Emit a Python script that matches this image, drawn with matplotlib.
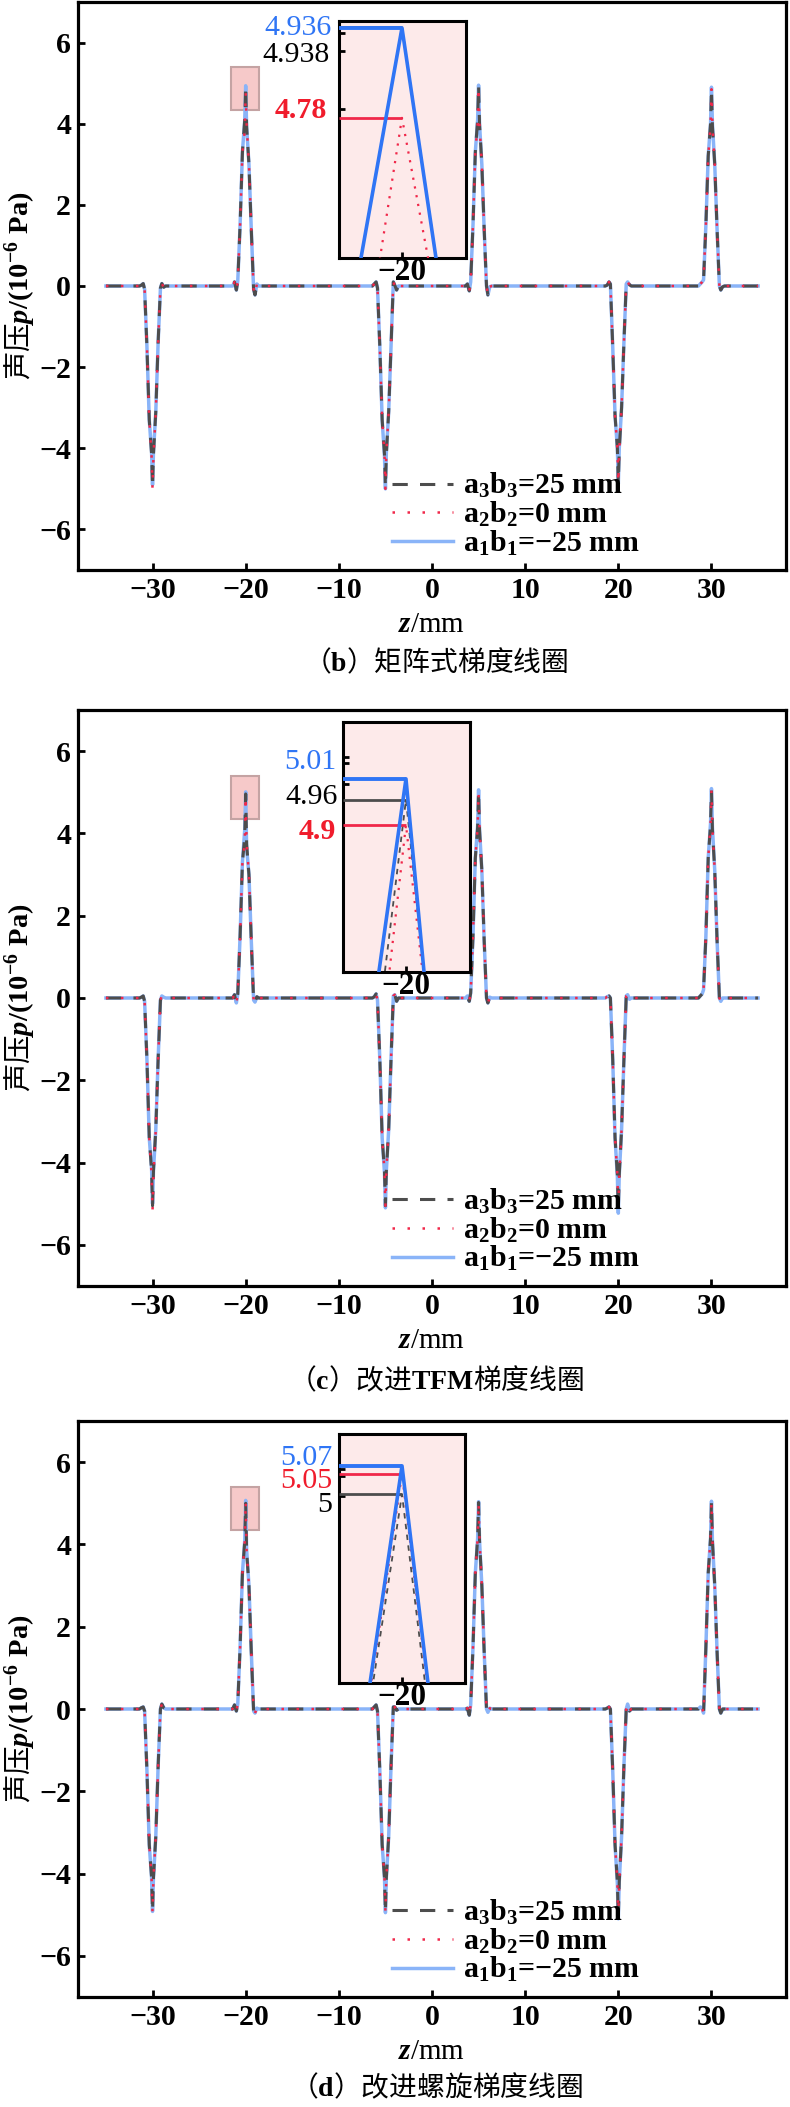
import matplotlib
matplotlib.use("Agg")
import matplotlib.pyplot as plt
from matplotlib.patches import Rectangle
from matplotlib.lines import Line2D

plt.rcParams['font.family'] = ['Liberation Serif', 'Noto Sans CJK SC', 'DejaVu Sans']
plt.rcParams['font.weight'] = 'bold'
plt.rcParams['mathtext.fontset'] = 'custom'
plt.rcParams['mathtext.rm'] = 'Liberation Serif:bold'
plt.rcParams['mathtext.it'] = 'Liberation Serif:italic:bold'
plt.rcParams['mathtext.bf'] = 'Liberation Serif:bold'
plt.rcParams['axes.unicode_minus'] = True

# ---------------- data ----------------
z = [-35.0,
     -31.4, -31.2, -31.0, -30.85, -30.6, -30.35, -30.1, -30.0, -29.9, -29.65, -29.4, -29.15, -29.0, -28.8, -28.6,
     -21.4, -21.2, -21.0, -20.85, -20.6, -20.35, -20.1, -20.0, -19.9, -19.65, -19.4, -19.15, -19.0, -18.8, -18.6,
     -6.4, -6.2, -6.0, -5.85, -5.6, -5.35, -5.1, -5.0, -4.9, -4.65, -4.4, -4.15, -4.0, -3.8, -3.6,
     3.6, 3.8, 4.0, 4.15, 4.4, 4.65, 4.9, 5.0, 5.1, 5.35, 5.6, 5.85, 6.0, 6.2, 6.4,
     18.6, 18.8, 19.0, 19.15, 19.4, 19.65, 19.9, 20.0, 20.1, 20.35, 20.6, 20.85, 21.0, 21.2, 21.4,
     28.6, 28.8, 29.0, 29.15, 29.4, 29.65, 29.9, 30.0, 30.1, 30.35, 30.6, 30.85, 31.0, 31.2, 31.4,
     35.0]
peak_z = [-30.0, -20.0, -5.0, 5.0, 20.0, 30.0]

# panel (b): a3b3 profile
b_a3b3 = [0.0,
          0.0, 0.02, 0.06, -0.08, -1.5, -3.3, -4.15, -4.95, -4.15, -3.1, -1.4, -0.05, 0.06, -0.03, 0.0,
          0.0, 0.1, -0.1, 0.12, 1.5, 3.3, 4.1, 4.938, 3.93, 3.0, 1.4, -0.08, -0.22, 0.05, 0.0,
          0.0, 0.05, 0.1, -0.05, -1.5, -3.3, -4.15, -4.95, -4.15, -3.1, -1.5, 0.1, 0.02, -0.1, 0.0,
          0.0, 0.05, -0.12, 0.1, 1.5, 3.3, 4.1, 4.95, 4.0, 3.0, 1.4, 0.0, -0.22, -0.02, 0.0,
          0.0, 0.02, 0.1, 0.05, -1.5, -3.2, -4.0, -4.85, -4.05, -3.0, -1.4, 0.05, 0.1, 0.03, 0.0,
          0.0, 0.05, 0.1, 0.15, 1.5, 3.2, 4.0, 4.85, 3.95, 3.0, 1.4, 0.0, -0.1, -0.02, 0.0,
          0.0]
b_a2b2_peaks = [(-4.2, -5.0, -4.2), (3.83, 4.78, 3.98), (-4.15, -5.0, -4.1),
                (4.0, 4.9, 3.95), (-4.0, -4.85, -4.05), (3.95, 4.85, 4.0)]
b_a1b1_peaks = [(-4.1, -4.9, -4.1), (4.1, 4.936, 3.928), (-4.2, -5.0, -4.1),
                (4.1, 4.95, 4.0), (-4.0, -4.88, -4.0), (4.0, 4.9, 4.0)]

# panel (c)
c_a3b3 = [0.0,
          0.0, 0.02, 0.05, -0.08, -1.5, -3.4, -4.2, -5.05, -4.2, -3.2, -1.5, -0.05, 0.05, 0.02, 0.0,
          0.0, 0.08, -0.12, 0.1, 1.5, 3.3, 3.92, 4.96, 3.74, 3.0, 1.4, -0.05, -0.1, 0.03, 0.0,
          0.0, 0.03, 0.1, -0.05, -1.5, -3.4, -4.2, -5.05, -4.2, -3.2, -1.5, 0.05, 0.08, -0.08, 0.0,
          0.0, 0.05, -0.08, 0.12, 1.5, 3.4, 4.15, 5.02, 4.1, 3.1, 1.4, 0.0, -0.12, 0.02, 0.0,
          0.0, 0.03, 0.05, 0.0, -1.5, -3.4, -4.3, -5.15, -4.3, -3.2, -1.5, 0.05, 0.08, -0.03, 0.0,
          0.0, 0.05, 0.1, 0.2, 1.5, 3.4, 4.2, 5.05, 4.1, 3.1, 1.4, 0.0, -0.08, 0.0, 0.0,
          0.0]
c_a2b2_peaks = [(-4.3, -5.18, -4.3), (3.77, 4.9, 3.77), (-4.2, -5.05, -4.2),
                (4.15, 5.0, 4.1), (-4.3, -5.2, -4.3), (4.2, 5.05, 4.1)]
c_a1b1_peaks = [(-4.15, -5.0, -4.2), (4.1, 5.01, 3.645), (-4.25, -5.1, -4.2),
                (4.2, 5.06, 4.1), (-4.35, -5.23, -4.3), (4.25, 5.09, 4.15)]

# panel (d)
d_a3b3 = [0.0,
          0.0, 0.03, 0.05, -0.05, -1.5, -3.3, -4.1, -4.92, -4.1, -3.1, -1.4, 0.0, 0.12, 0.03, 0.0,
          0.0, 0.1, -0.05, 0.12, 1.5, 3.3, 4.07, 5.0, 3.83, 3.0, 1.4, -0.05, -0.1, 0.02, 0.0,
          0.0, 0.05, 0.1, -0.05, -1.5, -3.3, -4.1, -4.94, -4.1, -3.1, -1.4, 0.05, 0.05, -0.03, 0.0,
          0.0, 0.02, -0.15, 0.1, 1.5, 3.3, 4.15, 5.02, 4.1, 3.0, 1.4, 0.0, -0.08, 0.02, 0.0,
          0.0, 0.02, 0.05, 0.0, -1.5, -3.3, -4.2, -5.08, -4.2, -3.1, -1.4, 0.0, 0.12, -0.05, 0.0,
          0.0, 0.05, 0.02, -0.1, 1.5, 3.3, 4.15, 5.03, 4.1, 3.0, 1.4, 0.0, -0.1, 0.0, 0.0,
          0.0]
d_a2b2_peaks = [(-4.1, -4.95, -4.1), (4.08, 5.05, 3.856), (-4.1, -4.94, -4.1),
                (4.15, 5.02, 4.1), (-4.2, -5.08, -4.2), (4.15, 5.03, 4.1)]
d_a1b1_peaks = [(-4.1, -4.92, -4.1), (4.1, 5.07, 3.876), (-4.1, -4.95, -4.1),
                (4.15, 5.04, 4.1), (-4.25, -5.1, -4.2), (4.15, 5.05, 4.1)]

labels = ['a$_3$b$_3$=25 mm', 'a$_2$b$_2$=0 mm', 'a$_1$b$_1$=\u221225 mm']
captions = ['（$\\mathbf{b}$）矩阵式梯度线圈',
            '（$\\mathbf{c}$）改进$\\mathbf{TFM}$梯度线圈',
            '（$\\mathbf{d}$）改进螺旋梯度线圈']
xticks = [-30, -20, -10, 0, 10, 20, 30]
yticks = [-6, -4, -2, 0, 2, 4, 6]


def with_peaks(base, peaks):
    vals = list(base)
    for c, trip in zip(peak_z, peaks):
        i = z.index(c)
        vals[i - 1:i + 2] = list(trip)
    return vals


panels = [
    dict(black=b_a3b3, red=with_peaks(b_a3b3, b_a2b2_peaks), blue=with_peaks(b_a3b3, b_a1b1_peaks),
         ax=(78, 2, 786, 570), inset=(339, 21, 466, 258),
         ixlim=(-20.0733, -19.9255), iylim=(4.537, 4.948), iyt=[4.927, 4.896, 4.796],
         lab=[('blue', 332, 28, 'normal'), ('black', 330, 55, 'normal'), ('red', 327, 110, 'bold')],
         cap=663),
    dict(black=c_a3b3, red=with_peaks(c_a3b3, c_a2b2_peaks), blue=with_peaks(c_a3b3, c_a1b1_peaks),
         ax=(78, 710, 786, 1286), inset=(343, 722, 470, 972),
         ixlim=(-20.118, -19.880), iylim=(4.548, 5.146), iyt=[5.063, 5.048, 4.998],
         lab=[('blue', 336, 762, 'normal'), ('black', 338, 797, 'normal'), ('red', 336, 832, 'bold')],
         cap=1381),
    dict(black=d_a3b3, red=with_peaks(d_a3b3, d_a2b2_peaks), blue=with_peaks(d_a3b3, d_a1b1_peaks),
         ax=(78, 1421, 786, 1997), inset=(339, 1434, 465, 1683),
         ixlim=(-20.108, -19.892), iylim=(4.538, 5.148), iyt=[5.062, 5.045, 4.996],
         lab=[('blue', 332, 1458, 'normal'), ('red', 332, 1481, 'normal'), ('black', 332, 1505, 'normal')],
         cap=2088),
]

W, H = 790, 2107
fig = plt.figure(figsize=(W / 100, H / 100), dpi=100)


def rect(l, t, r, b):
    return [l / W, 1 - b / H, (r - l) / W, (b - t) / H]


C_BLACK = '#4d4d4d'
C_RED = '#f0284a'
C_LBLUE = '#8ab4f8'
C_BLUE = '#2f75f5'
txtcol = {'black': 'black', 'red': '#f01c2c', 'blue': C_BLUE}

for k, P in enumerate(panels):
    ax = fig.add_axes(rect(*P['ax']))
    ax.plot(z, P['blue'], color=C_LBLUE, lw=2.5, zorder=2)
    ax.plot(z, P['black'], color=C_BLACK, lw=2.2, ls=(0, (5, 4)), zorder=3)
    ax.plot(z, P['red'], color=C_RED, lw=1.8, ls=(0, (1, 5)), zorder=4)
    ax.add_patch(Rectangle((-21.6, 4.35), 3.0, 1.05, facecolor='#f6c9c9',
                           edgecolor='#c4a3a3', lw=1.5, zorder=1))
    ax.set_xlim(-38, 38)
    ax.set_ylim(-7, 7)
    ax.set_xticks(xticks)
    ax.set_yticks(yticks)
    ax.tick_params(direction='in', length=5, width=2, labelsize=21.5, pad=5,
                   top=False, right=False)
    for s in ax.spines.values():
        s.set_linewidth(2.3)
    h = P['ax'][3] - P['ax'][1]
    ax.set_xlabel('$z$/mm', fontsize=21)
    ax.xaxis.label.set_va('center')
    ax.xaxis.set_label_coords(0.5, -55 / h)
    ax.set_ylabel('声压$p\\mathrm{/(10^{-6}\\ Pa)}$', fontsize=20.5,
                  fontfamily='Noto Sans CJK SC', fontweight='normal')
    ax.yaxis.label.set_va('center')
    ax.yaxis.set_label_coords((19 - 78) / 708, 0.5)

    handles = [Line2D([], [], color=C_BLACK, lw=2.2, ls=(0, (5, 4))),
               Line2D([], [], color=C_RED, lw=1.8, ls=(0, (1, 5))),
               Line2D([], [], color=C_LBLUE, lw=2.5)]
    ax.legend(handles, labels, loc='lower left', bbox_to_anchor=(0.443, 0.022),
              frameon=False, fontsize=21.5, handlelength=2.05, handletextpad=0.35,
              labelspacing=-0.02, borderpad=0, borderaxespad=0)

    # inset
    ai = fig.add_axes(rect(*P['inset']))
    ai.set_facecolor('#fdeaea')
    ai.plot(z, P['black'], color=C_BLACK, lw=1.3, ls=(0, (3, 3)), zorder=2)
    ai.plot(z, P['red'], color=C_RED, lw=1.6, ls=(0, (1, 3)), zorder=3)
    ai.plot(z, P['blue'], color=C_BLUE, lw=2.6, zorder=4)
    i20 = z.index(-20.0)
    x0 = P['ixlim'][0]
    ai.hlines(P['black'][i20], x0, -20.0, color=C_BLACK, lw=2.0, zorder=3)
    ai.hlines(P['red'][i20], x0, -20.0, color=C_RED, lw=2.0, zorder=3)
    ai.hlines(P['blue'][i20], x0, -20.0, color=C_BLUE, lw=2.8, zorder=5)
    ai.set_xlim(*P['ixlim'])
    ai.set_ylim(*P['iylim'])
    ai.set_xticks([-20])
    ai.set_yticks(P['iyt'])
    ai.set_yticklabels([])
    ai.tick_params(direction='in', length=4, width=2, labelsize=22.5, pad=0)
    for s in ai.spines.values():
        s.set_linewidth(2.2)
    for name, xp, yp, wt in P['lab']:
        v = P[name][i20]
        fig.text(xp / W, 1 - yp / H, f'{v:g}', color=txtcol[name], fontsize=21.5,
                 fontweight=wt, ha='right', va='center')

    fig.text(436 / W, 1 - P['cap'] / H, captions[k], fontsize=20,
             fontfamily='Noto Sans CJK SC', fontweight='normal', ha='center', va='center')

fig.savefig('out.png', dpi=100)
